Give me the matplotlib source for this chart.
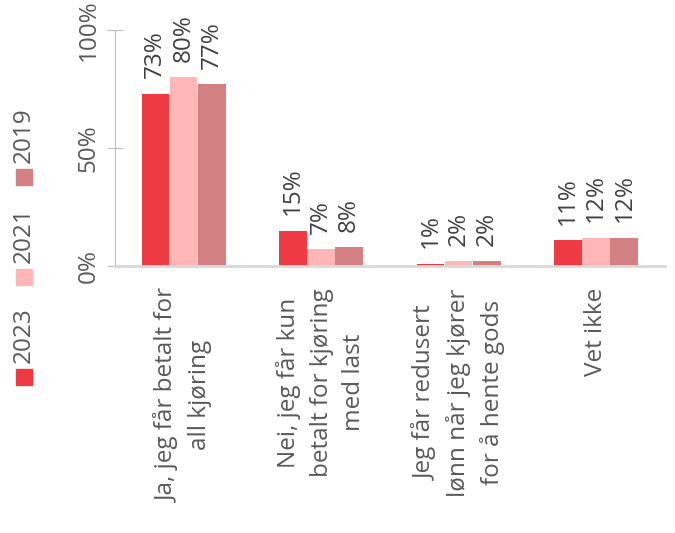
import numpy as np
import matplotlib.pyplot as plt
from matplotlib.patches import Rectangle

plt.rcParams['font.family'] = ['Open Sans', 'DejaVu Sans']

categories = ['Ja, jeg får betalt for\nall kjøring',
              'Nei, jeg får kun\nbetalt for kjøring\nmed last',
              'Jeg får redusert\nlønn når jeg kjører\nfor å hente gods',
              'Vet ikke']
years = ['2023', '2021', '2019']
v2023 = [73, 15, 1, 11]
v2021 = [80, 7, 2, 12]
v2019 = [77, 8, 2, 12]
colors = ['#EE3A43', '#FFB6B6', '#D38082']

fs = 17.5
fig = plt.figure(figsize=(6.75, 5.33), dpi=100)
ax = fig.add_axes([0.170, 0.501, 0.815, 0.443])

x = np.arange(len(categories))
w = 0.205
for i, (vals, c) in enumerate(zip([v2023, v2021, v2019], colors)):
    pos = x + (i - 1) * w
    ax.bar(pos, vals, width=w * 0.98, color=c, linewidth=0)
    for p, v in zip(pos, vals):
        ax.text(p, v + 6.5, f'{v}%', rotation=90, ha='center', va='bottom',
                fontsize=fs, color='#404040')

ax.set_xlim(-0.5, len(categories) - 0.5)
ax.set_ylim(0, 100)
ax.set_yticks([0, 50, 100])
ax.set_yticklabels(['0%', '50%', '100%'], rotation=90, va='center',
                   fontsize=fs, color='#595959')
ax.tick_params(axis='y', direction='inout', length=12, color='#bfbfbf', pad=4)
ax.set_xticks(x)
ax.set_xticklabels(categories, rotation=90, ha='center', va='top',
                   multialignment='center', fontsize=fs, color='#595959',
                   linespacing=1.45)
ax.tick_params(axis='x', length=0, pad=16)

for s in ['top', 'right']:
    ax.spines[s].set_visible(False)
ax.spines['left'].set_color('#bfbfbf')
ax.spines['bottom'].set_color('#d9d9d9')
ax.spines['bottom'].set_linewidth(2)

# vertical legend on the left
leg_bottom = [385, 285, 185]
for yb, c, lab in zip(leg_bottom, colors, years):
    fig.patches.append(Rectangle((16 / 675, 1 - yb / 533), 16 / 675, 16 / 533,
                                 transform=fig.transFigure, color=c))
    fig.text(24 / 675, 1 - (yb - 22) / 533, lab, rotation=90, ha='center',
             va='bottom', fontsize=fs, color='#595959')

fig.savefig('out.png', dpi=100)
